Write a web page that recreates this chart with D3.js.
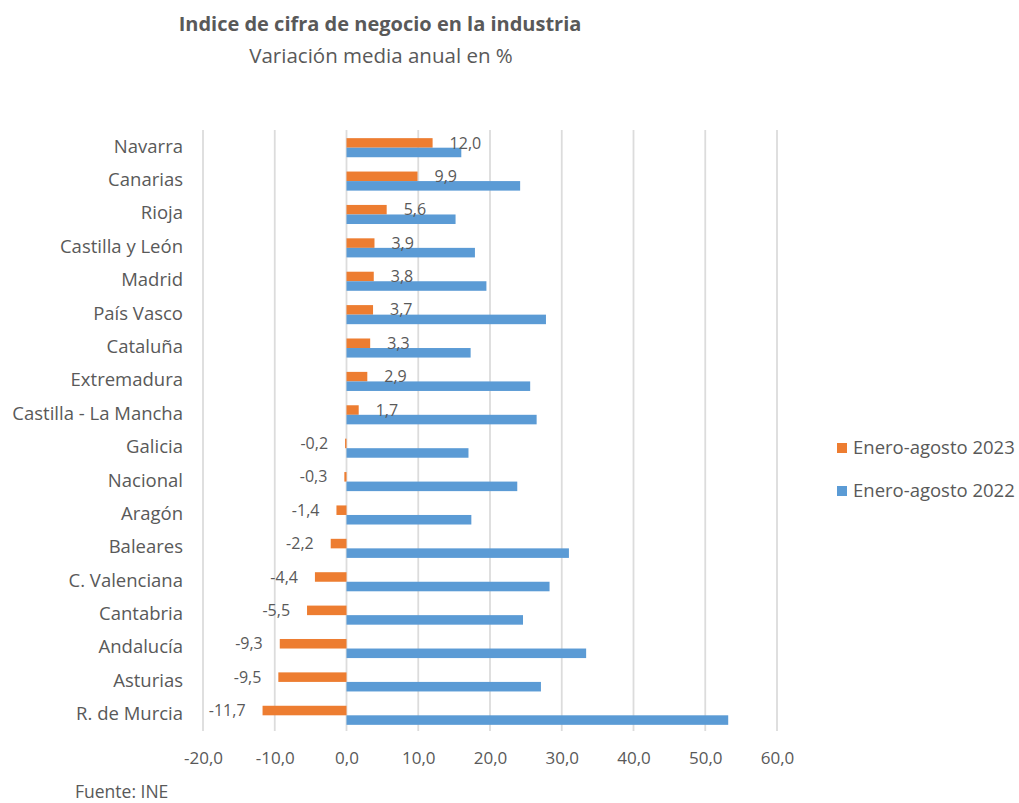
<!DOCTYPE html>
<html>
<head>
<meta charset="utf-8">
<script src="https://cdn.jsdelivr.net/npm/d3@7"></script>
<style>
  body { margin: 0; background: #fff; }
  text { font-family: "Open Sans", "Noto Sans", sans-serif; fill: #595959; }
</style>
</head>
<body>
<div id="chart"></div>
<script>
// Regions, top to bottom
var regions = ["Navarra", "Canarias", "Rioja", "Castilla y León", "Madrid", "País Vasco",
  "Cataluña", "Extremadura", "Castilla - La Mancha", "Galicia", "Nacional", "Aragón",
  "Baleares", "C. Valenciana", "Cantabria", "Andalucía", "Asturias", "R. de Murcia"];

// Enero-agosto 2023
var values2023 = [12.0, 9.9, 5.6, 3.9, 3.8, 3.7, 3.3, 2.9, 1.7, -0.2, -0.3, -1.4,
  -2.2, -4.4, -5.5, -9.3, -9.5, -11.7];

// Enero-agosto 2022
var values2022 = [16.0, 24.2, 15.2, 17.9, 19.5, 27.8, 17.3, 25.6, 26.5, 17.0, 23.8, 17.4,
  31.0, 28.3, 24.6, 33.4, 27.1, 53.2];

var xTicks = [-20, -10, 0, 10, 20, 30, 40, 50, 60];
var seriesNames = ["Enero-agosto 2023", "Enero-agosto 2022"];
var colors = ["#ED7D31", "#5B9BD5"];

var width = 1019, height = 803;
// Spanish style: comma decimal, plain hyphen for negatives
var fmt = function(v) { return v.toFixed(1).replace(".", ","); };

var svg = d3.select("#chart").append("svg")
    .attr("width", width)
    .attr("height", height);

var x = d3.scaleLinear().domain([-20, 60]).range([203, 777]);
var y = d3.scaleBand().domain(regions).range([130, 731]);
var inner = d3.scaleBand().domain([0, 1]).range([0, y.bandwidth()]).paddingOuter(0.75);

// Gridlines
svg.append("g").selectAll("line")
    .data(xTicks)
    .enter().append("line")
    .attr("x1", function(d) { return x(d); })
    .attr("x2", function(d) { return x(d); })
    .attr("y1", 130)
    .attr("y2", 731)
    .attr("stroke", "#DCDCDC")
    .attr("stroke-width", 1.8);

// X axis labels
var xAxis = d3.axisBottom(x).tickValues(xTicks).tickFormat(fmt).tickSize(0).tickPadding(0);
var xg = svg.append("g").attr("transform", "translate(0,752)").call(xAxis);
xg.select(".domain").remove();
xg.selectAll("text").attr("font-size", "17px").attr("fill", "#595959")
    .attr("font-family", "'Open Sans', sans-serif");

// Y axis labels
var yAxis = d3.axisLeft(y).tickSize(0).tickPadding(0);
var yg = svg.append("g").attr("transform", "translate(183,0)").call(yAxis);
yg.select(".domain").remove();
yg.selectAll("text").attr("font-size", "18.5px").attr("fill", "#595959")
    .attr("font-family", "'Open Sans', sans-serif");

// Bars
var series = [values2023, values2022];
series.forEach(function(vals, s) {
  svg.append("g").selectAll("rect")
      .data(vals)
      .enter().append("rect")
      .attr("x", function(d) { return x(Math.min(0, d)); })
      .attr("y", function(d, i) { return y(regions[i]) + inner(s) + 1; })
      .attr("width", function(d) { return Math.abs(x(d) - x(0)); })
      .attr("height", inner.bandwidth())
      .attr("fill", colors[s]);
});

// Data labels for 2023
svg.append("g").selectAll("text")
    .data(values2023)
    .enter().append("text")
    .attr("x", function(d) { return d >= 0 ? x(d) + 17 : x(d) - 17; })
    .attr("y", function(d, i) { return y(regions[i]) + inner(0) + inner.bandwidth() / 2 + 1; })
    .attr("dy", "0.35em")
    .attr("text-anchor", function(d) { return d >= 0 ? "start" : "end"; })
    .attr("font-size", "16px")
    .attr("fill", "#404040")
    .text(fmt);

// Title
svg.append("text")
    .attr("x", 380).attr("y", 31)
    .attr("text-anchor", "middle")
    .attr("font-size", "20px")
    .attr("font-weight", "bold")
    .text("Indice de cifra de negocio en la industria");
svg.append("text")
    .attr("x", 381).attr("y", 63)
    .attr("text-anchor", "middle")
    .attr("font-size", "20.5px")
    .text("Variación media anual en %");

// Legend
var legend = svg.append("g").selectAll("g")
    .data(seriesNames)
    .enter().append("g")
    .attr("transform", function(d, i) { return "translate(837," + (443 + i * 43) + ")"; });
legend.append("rect")
    .attr("width", 10).attr("height", 10)
    .attr("fill", function(d, i) { return colors[i]; });
legend.append("text")
    .attr("x", 16).attr("y", 5)
    .attr("dy", "0.35em")
    .attr("font-size", "18.5px")
    .text(function(d) { return d; });

// Source
svg.append("text")
    .attr("x", 75).attr("y", 798)
    .attr("font-size", "17.5px")
    .text("Fuente: INE");
</script>
</body>
</html>
